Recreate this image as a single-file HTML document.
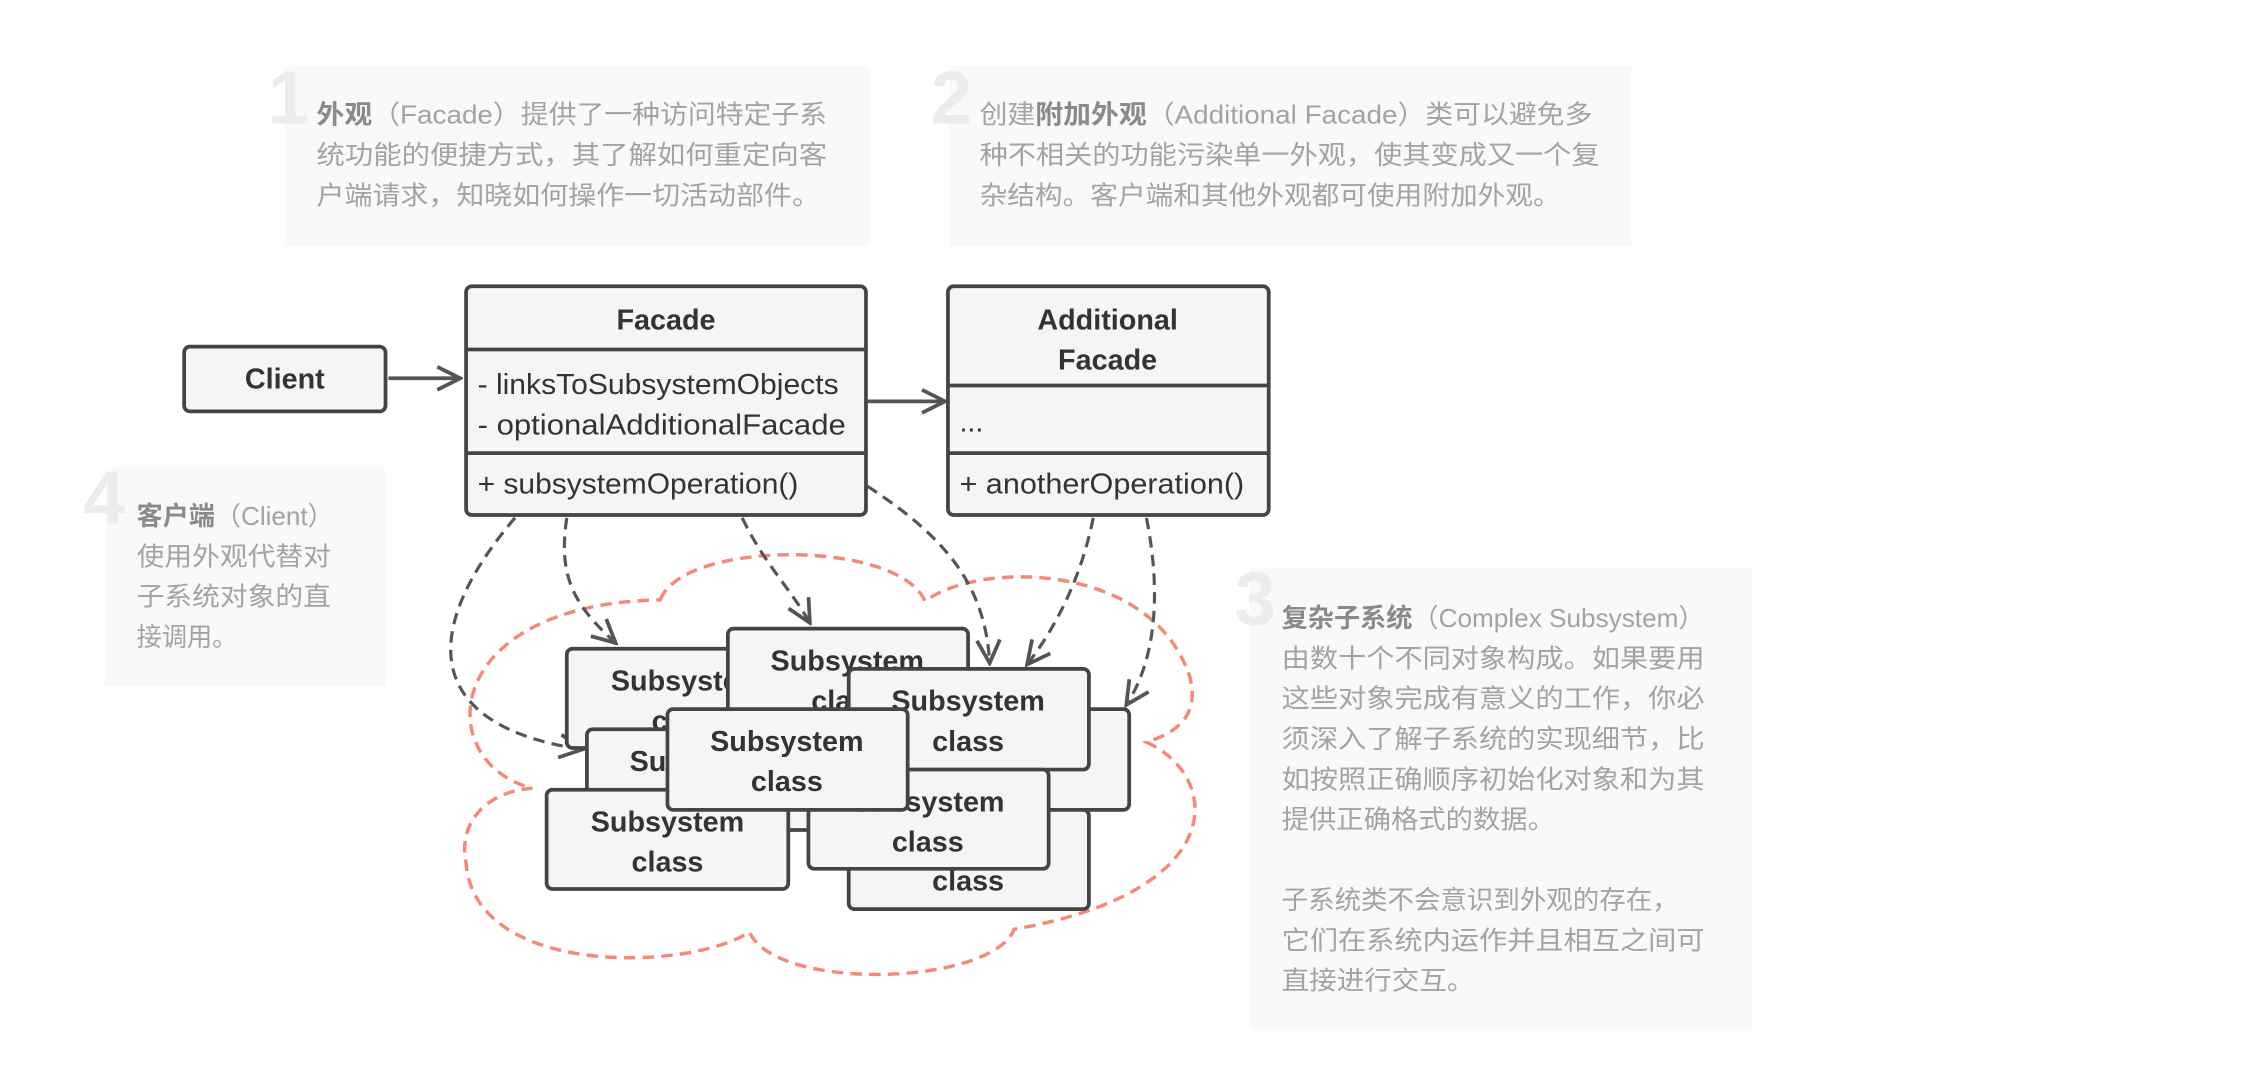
<!DOCTYPE html>
<html><head><meta charset="utf-8"><style>
html,body{margin:0;padding:0;background:#fff;}
svg{display:block;}
.n{font-family:"Liberation Sans","Noto Sans CJK SC",sans-serif;font-size:18px;fill:#a3a3a3;}
.nb{font-weight:bold;fill:#8a8a8a;}
.big{font-family:"Liberation Sans",sans-serif;font-size:52px;font-weight:bold;fill:#ececec;}
.t{font-family:"Liberation Sans",sans-serif;font-size:20px;fill:#333;}
.tb{font-family:"Liberation Sans",sans-serif;font-size:20px;font-weight:bold;fill:#333;}
.bx{fill:#f5f5f5;stroke:#444;stroke-width:2.6;}
.dash{fill:none;stroke:#555;stroke-width:2.2;stroke-dasharray:8,5;}
</style></head><body>
<svg width="2244" height="1084" viewBox="0 0 1560 753.6" xmlns="http://www.w3.org/2000/svg">
<defs>
<marker id="ah" viewBox="0 0 20 20" refX="18" refY="10" markerWidth="20" markerHeight="20" markerUnits="userSpaceOnUse" orient="auto">
<path d="M2,2 L18,10 L2,18" fill="none" stroke="#555" stroke-width="2.6"/>
</marker>
</defs>
<!-- notes -->
<rect x="198" y="46" width="406" height="125" fill="#f9f9f9"/>
<text class="big" x="186" y="86">1</text>
<text class="n" x="220" y="86" textLength="355" lengthAdjust="spacingAndGlyphs"><tspan class="nb">外观</tspan>（Facade）提供了一种访问特定子系</text>
<text class="n" x="220" y="114" textLength="355" lengthAdjust="spacingAndGlyphs">统功能的便捷方式，其了解如何重定向客</text>
<text class="n" x="220" y="142" textLength="350" lengthAdjust="spacingAndGlyphs">户端请求，知晓如何操作一切活动部件。</text>

<rect x="660" y="46" width="474" height="125" fill="#f9f9f9"/>
<text class="big" x="647" y="86">2</text>
<text class="n" x="681" y="86" textLength="426" lengthAdjust="spacingAndGlyphs">创建<tspan class="nb">附加外观</tspan>（Additional Facade）类可以避免多</text>
<text class="n" x="681" y="114" textLength="431" lengthAdjust="spacingAndGlyphs">种不相关的功能污染单一外观，使其变成又一个复</text>
<text class="n" x="681" y="142" textLength="404" lengthAdjust="spacingAndGlyphs">杂结构。客户端和其他外观都可使用附加外观。</text>

<rect x="73" y="325" width="195" height="152" fill="#f9f9f9"/>
<text class="big" x="58" y="364">4</text>
<text class="n" x="95" y="365" textLength="137" lengthAdjust="spacingAndGlyphs"><tspan class="nb">客户端</tspan>（Client）</text>
<text class="n" x="95" y="393" textLength="135" lengthAdjust="spacingAndGlyphs">使用外观代替对</text>
<text class="n" x="95" y="421" textLength="135" lengthAdjust="spacingAndGlyphs">子系统对象的直</text>
<text class="n" x="95" y="449" textLength="70" lengthAdjust="spacingAndGlyphs">接调用。</text>

<rect x="869" y="395" width="349" height="320" fill="#f9f9f9"/>
<text class="big" x="858" y="434">3</text>
<text class="n" x="891" y="436" textLength="294" lengthAdjust="spacingAndGlyphs"><tspan class="nb">复杂子系统</tspan>（Complex Subsystem）</text>
<text class="n" x="891" y="464" textLength="294" lengthAdjust="spacingAndGlyphs">由数十个不同对象构成。如果要用</text>
<text class="n" x="891" y="492" textLength="294" lengthAdjust="spacingAndGlyphs">这些对象完成有意义的工作，你必</text>
<text class="n" x="891" y="520" textLength="294" lengthAdjust="spacingAndGlyphs">须深入了解子系统的实现细节，比</text>
<text class="n" x="891" y="548" textLength="294" lengthAdjust="spacingAndGlyphs">如按照正确顺序初始化对象和为其</text>
<text class="n" x="891" y="576" textLength="190" lengthAdjust="spacingAndGlyphs">提供正确格式的数据。</text>
<text class="n" x="891" y="632" textLength="276" lengthAdjust="spacingAndGlyphs">子系统类不会意识到外观的存在，</text>
<text class="n" x="891" y="660" textLength="294" lengthAdjust="spacingAndGlyphs">它们在系统内运作并且相互之间可</text>
<text class="n" x="891" y="688" textLength="134" lengthAdjust="spacingAndGlyphs">直接进行交互。</text>

<!-- cloud -->
<path d="M459,417 C475,375 625,375 643,418 C680,390 800,390 827,470 C835,500 815,510 797,516 C850,540 855,620 705,646 C690,685 540,690 521,648 C480,675 330,680 324,600 C318,570 340,550 370,548 C300,530 305,420 459,417 Z" fill="none" stroke="#f4897a" stroke-width="2.4" stroke-dasharray="8,5"/>

<!-- dashed arrows -->
<path class="dash" d="M358,360 C290,440 295,505 405,521" marker-end="url(#ah)"/>
<path class="dash" d="M394,360 C388,400 398,420 428,447" marker-end="url(#ah)"/>
<path class="dash" d="M516,360 C530,390 550,410 563,433" marker-end="url(#ah)"/>
<path class="dash" d="M603,338 C655,372 685,405 688,461" marker-end="url(#ah)"/>
<path class="dash" d="M760,360 C752,400 735,435 714,462" marker-end="url(#ah)"/>
<path class="dash" d="M797,360 C806,405 806,455 783,490" marker-end="url(#ah)"/>

<!-- client -->
<rect class="bx" x="128" y="241" width="140" height="45" rx="4"/>
<text class="tb" x="198" y="270" text-anchor="middle">Client</text>
<line x1="270" y1="263" x2="320" y2="263" stroke="#555" stroke-width="2.6" marker-end="url(#ah)"/>

<!-- facade -->
<rect class="bx" x="324" y="199" width="278" height="159" rx="4"/>
<line x1="324" y1="243" x2="602" y2="243" stroke="#444" stroke-width="2.6"/>
<line x1="324" y1="315" x2="602" y2="315" stroke="#444" stroke-width="2.6"/>
<text class="tb" x="463" y="229" text-anchor="middle">Facade</text>
<text class="t" x="332" y="274" textLength="251" lengthAdjust="spacingAndGlyphs">- linksToSubsystemObjects</text>
<text class="t" x="332" y="302" textLength="256" lengthAdjust="spacingAndGlyphs">- optionalAdditionalFacade</text>
<text class="t" x="332" y="343" textLength="223" lengthAdjust="spacingAndGlyphs">+ subsystemOperation()</text>
<line x1="603" y1="279" x2="657" y2="279" stroke="#555" stroke-width="2.6" marker-end="url(#ah)"/>

<!-- additional facade -->
<rect class="bx" x="659" y="199" width="223" height="159" rx="4"/>
<line x1="659" y1="268" x2="882" y2="268" stroke="#444" stroke-width="2.6"/>
<line x1="659" y1="315" x2="882" y2="315" stroke="#444" stroke-width="2.6"/>
<text class="tb" x="770" y="229" text-anchor="middle">Additional</text>
<text class="tb" x="770" y="257" text-anchor="middle">Facade</text>
<text class="t" x="667" y="300">...</text>
<text class="t" x="667" y="343" textLength="198" lengthAdjust="spacingAndGlyphs">+ anotherOperation()</text>

<!-- subsystem boxes -->
<g>
<rect class="bx" x="394" y="451" width="168" height="69" rx="4"/>
<text class="tb" x="478" y="480" text-anchor="middle">Subsystem</text><text class="tb" x="478" y="508" text-anchor="middle">class</text>
<rect class="bx" x="506" y="437" width="167" height="69" rx="4"/>
<text class="tb" x="589" y="466" text-anchor="middle">Subsystem</text><text class="tb" x="589" y="494" text-anchor="middle">class</text>
<rect class="bx" x="620" y="493" width="165" height="70" rx="4"/>
<text class="tb" x="702" y="522" text-anchor="middle">Subsystem</text><text class="tb" x="702" y="550" text-anchor="middle">class</text>
<rect class="bx" x="590" y="563" width="167" height="69" rx="4"/>
<text class="tb" x="673" y="591" text-anchor="middle">Subsystem</text><text class="tb" x="673" y="619" text-anchor="middle">class</text>
<rect class="bx" x="590" y="465" width="167" height="70" rx="4"/>
<text class="tb" x="673" y="494" text-anchor="middle">Subsystem</text><text class="tb" x="673" y="522" text-anchor="middle">class</text>
<rect class="bx" x="408" y="507" width="167" height="70" rx="4"/>
<text class="tb" x="491" y="536" text-anchor="middle">Subsystem</text><text class="tb" x="491" y="564" text-anchor="middle">class</text>
<rect class="bx" x="380" y="549" width="168" height="69" rx="4"/>
<text class="tb" x="464" y="578" text-anchor="middle">Subsystem</text><text class="tb" x="464" y="606" text-anchor="middle">class</text>
<rect class="bx" x="562" y="535" width="167" height="69" rx="4"/>
<text class="tb" x="645" y="564" text-anchor="middle">Subsystem</text><text class="tb" x="645" y="592" text-anchor="middle">class</text>
<rect class="bx" x="464" y="493" width="167" height="70" rx="4"/>
<text class="tb" x="547" y="522" text-anchor="middle">Subsystem</text><text class="tb" x="547" y="550" text-anchor="middle">class</text>
</g>
</svg>
</body></html>
